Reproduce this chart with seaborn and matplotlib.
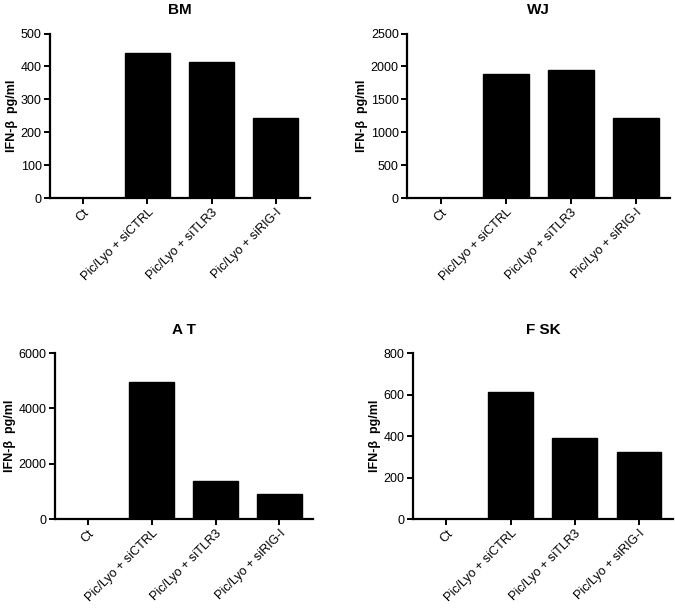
import pandas as pd
import seaborn as sns
import matplotlib.pyplot as plt

# data
conditions = ["Ct", "Pic/Lyo + siCTRL", "Pic/Lyo + siTLR3", "Pic/Lyo + siRIG-I"]
bm = [0, 440, 415, 245]
wj = [0, 1880, 1950, 1215]
at = [0, 4970, 1370, 920]
fsk = [0, 612, 390, 322]

panels = [
    ("BM", bm, 500, 100, [0.074, 0.675, 0.385, 0.270]),
    ("WJ", wj, 2500, 500, [0.603, 0.675, 0.390, 0.270]),
    ("A T", at, 6000, 2000, [0.081, 0.149, 0.383, 0.272]),
    ("F SK", fsk, 800, 200, [0.612, 0.149, 0.385, 0.272]),
]

sns.set_style("ticks")
plt.rcParams["font.family"] = ["Liberation Sans", "DejaVu Sans"]
plt.rcParams["text.color"] = "black"
plt.rcParams["axes.labelcolor"] = "black"

fig = plt.figure(figsize=(6.75, 6.1), dpi=100)

for title, values, ymax, step, rect in panels:
    ax = fig.add_axes(rect)
    df = pd.DataFrame({"condition": conditions, "ifn": values})
    sns.barplot(data=df, x="condition", y="ifn", color="black",
                width=0.7, edgecolor="black", saturation=1, ax=ax)
    ax.set_ylim(0, ymax)
    ax.set_yticks(range(0, ymax + 1, step))
    ax.set_xlim(-0.52, 3.53)
    ax.set_xlabel("")
    ax.set_ylabel("IFN-β  pg/ml", fontsize=9, fontweight="bold", labelpad=2)
    ax.set_title(title, fontsize=11, fontweight="bold", pad=14, color="black")
    for s in ["top", "right"]:
        ax.spines[s].set_visible(False)
    for s in ["left", "bottom"]:
        ax.spines[s].set_linewidth(1.6)
        ax.spines[s].set_color("black")
    ax.tick_params(axis="both", width=1.4, length=4, pad=2, labelsize=9, colors="black")
    plt.setp(ax.get_xticklabels(), rotation=45, ha="right", rotation_mode="anchor")

fig.savefig("out.png", dpi=100)
